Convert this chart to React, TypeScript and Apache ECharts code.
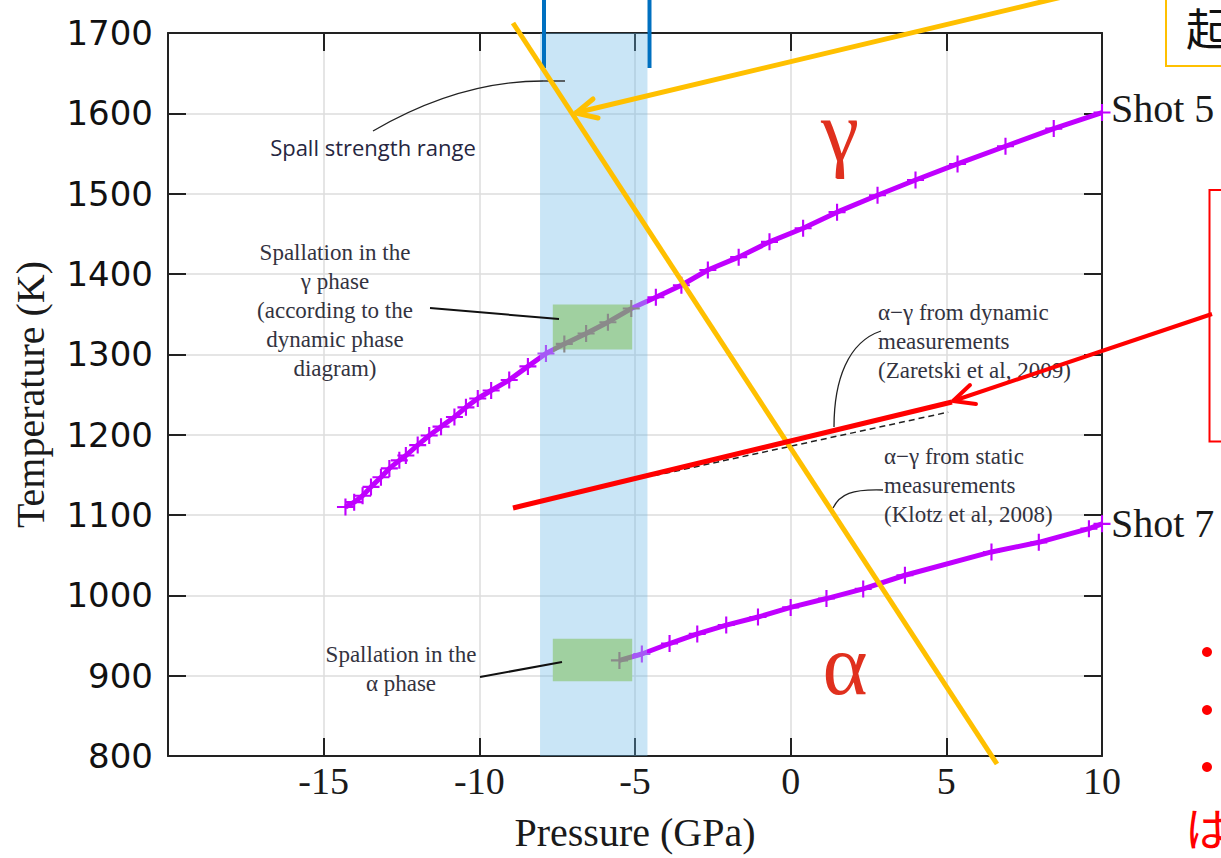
import React, { useEffect, useRef } from "react";
import * as echarts from "echarts";

// ---- axis ranges ----
const X_MIN = -20;
const X_MAX = 10;
const X_STEP = 5;
const Y_MIN = 800;
const Y_MAX = 1700;
const Y_STEP = 100;

// ---- Shot 5 (gamma phase path) ----
const shot5Pressure = [-14.3, -14.02, -13.75, -13.48, -13.16, -12.89, -12.57, -12.36, -11.98, -11.61, -11.23, -10.8, -10.43, -10.05, -9.62, -9.04, -8.44, -7.86, -7.27, -6.57, -5.87, -5.12, -4.33, -3.51, -2.66, -1.67, -0.68, 0.4, 1.49, 2.79, 4.01, 5.36, 6.9, 8.45, 10];
const shot5Temp = [1110, 1116, 1124, 1135, 1147, 1158, 1168, 1174, 1187, 1199, 1210, 1222, 1234, 1245, 1255, 1268, 1285, 1301, 1313, 1326, 1340, 1357, 1371, 1386, 1405, 1421, 1440, 1457, 1477, 1498, 1517, 1537, 1559, 1581, 1601];

// ---- Shot 7 (alpha phase path) ----
const shot7Pressure = [-5.5, -4.78, -3.89, -3.0, -2.07, -1.05, 0, 1.15, 2.33, 3.67, 6.45, 7.97, 9.58, 10];
const shot7Temp = [919, 927, 940, 952, 963, 973, 985, 996, 1008, 1025, 1054, 1066, 1083, 1089];

// ---- alpha-gamma boundary from dynamic measurements (visible part) ----
const dynPressure = [-4.37, 5.06];
const dynTemp = [1149, 1228];

// ---- regions ----
const spallRange = [-8.05, -4.6];
const spallBoxPressure = [-7.64, -5.09];
const gammaBoxTemp = [1306, 1362];
const alphaBoxTemp = [893, 946];

// ---- labels ----
const shotLabels = ["Shot 5", "Shot 7"];

const SERIF = "'Liberation Serif', 'Times New Roman', serif";
const SANS = "'DejaVu Sans', sans-serif";
const CJK = "'Noto Sans CJK JP', sans-serif";
const PLUS = "path://M7,0H9V7H16V9H9V16H7V9H0V7H7Z";

const pairs = (xs: number[], ys: number[]) => xs.map((x, i) => [x, ys[i]]);

export default function App() {
  const ref = useRef<HTMLDivElement>(null);

  useEffect(() => {
    if (!ref.current) return;
    const chart = echarts.init(ref.current, null, { renderer: "svg" });

    const axisLine = { show: true, onZero: false, lineStyle: { color: "#222", width: 2 } };
    const axisTick = { show: true, inside: true, length: 18, lineStyle: { color: "#222", width: 2 } };
    const grayLine = { color: "#dcdcdc", width: 1.5 };

    const Z = 100;
    const graphic: any[] = [
      // in-figure annotations
      {
        type: "text", z: 50,
        style: { text: "Spall strength range", x: 373, y: 147, textAlign: "center", textVerticalAlign: "middle", fontFamily: "'Open Sans', sans-serif", fontSize: 22, fill: "#26263f" },
      },
      {
        type: "bezierCurve", z: 50,
        shape: { x1: 373, y1: 131, cpx1: 440, cpy1: 92, cpx2: 495, cpy2: 81, x2: 543, y2: 81 },
        style: { stroke: "#222", lineWidth: 1.3, fill: "none" },
      },
      { type: "line", z: 50, shape: { x1: 543, y1: 81, x2: 565, y2: 81 }, style: { stroke: "#333", lineWidth: 1.5 } },
      {
        type: "text", z: 50,
        style: { text: "Spallation in the\nγ phase\n(according to the\ndynamic phase\ndiagram)", x: 335, y: 310, textAlign: "center", textVerticalAlign: "middle", fontFamily: SERIF, fontSize: 23, lineHeight: 29, fill: "#333340" },
      },
      { type: "line", z: 50, shape: { x1: 430, y1: 308, x2: 559, y2: 319 }, style: { stroke: "#111", lineWidth: 2 } },
      {
        type: "text", z: 50,
        style: { text: "Spallation in the\nα phase", x: 401, y: 669, textAlign: "center", textVerticalAlign: "middle", fontFamily: SERIF, fontSize: 23, lineHeight: 29, fill: "#333340" },
      },
      { type: "line", z: 50, shape: { x1: 480, y1: 677, x2: 562, y2: 662 }, style: { stroke: "#111", lineWidth: 2 } },
      {
        type: "text", z: 50,
        style: { text: "α−γ from dynamic\nmeasurements\n(Zaretski et al, 2009)", x: 878, y: 341, textAlign: "left", textVerticalAlign: "middle", fontFamily: SERIF, fontSize: 23, lineHeight: 29, fill: "#333340" },
      },
      {
        type: "bezierCurve", z: 50,
        shape: { x1: 881, y1: 331, cpx1: 848, cpy1: 342, cpx2: 834, cpy2: 380, x2: 834, y2: 427 },
        style: { stroke: "#222", lineWidth: 1.3, fill: "none" },
      },
      {
        type: "text", z: 50,
        style: { text: "α−γ from static\nmeasurements\n(Klotz et al, 2008)", x: 884, y: 485, textAlign: "left", textVerticalAlign: "middle", fontFamily: SERIF, fontSize: 23, lineHeight: 29, fill: "#333340" },
      },
      {
        type: "bezierCurve", z: 50,
        shape: { x1: 883, y1: 490, cpx1: 852, cpy1: 489, cpx2: 840, cpy2: 494, x2: 833, y2: 508 },
        style: { stroke: "#222", lineWidth: 1.3, fill: "none" },
      },
      { type: "text", z: 50, style: { text: "γ", x: 840, y: 131, textAlign: "center", textVerticalAlign: "middle", fontFamily: SERIF, fontSize: 86, fill: "#e0301e" } },
      { type: "text", z: 50, style: { text: "α", x: 845, y: 665, textAlign: "center", textVerticalAlign: "middle", fontFamily: SERIF, fontSize: 86, fill: "#e0301e" } },
      { type: "text", z: 50, style: { text: shotLabels[0], x: 1111, y: 108, textAlign: "left", textVerticalAlign: "middle", fontFamily: SERIF, fontSize: 40, fill: "#1a1a1a" } },
      { type: "text", z: 50, style: { text: shotLabels[1], x: 1111, y: 523, textAlign: "left", textVerticalAlign: "middle", fontFamily: SERIF, fontSize: 40, fill: "#1a1a1a" } },

      // slide overlays
      { type: "rect", z: Z, shape: { x: 542, y: 0, width: 4, height: 68 }, style: { fill: "#0070c0" } },
      { type: "rect", z: Z, shape: { x: 647.5, y: 0, width: 4, height: 68 }, style: { fill: "#0070c0" } },
      { type: "line", z: Z, shape: { x1: 513, y1: 23, x2: 997, y2: 764 }, style: { stroke: "#ffc000", lineWidth: 5 } },
      { type: "line", z: Z, shape: { x1: 575, y1: 113, x2: 1062, y2: -3 }, style: { stroke: "#ffc000", lineWidth: 5 } },
      { type: "polyline", z: Z, shape: { points: [[593, 99], [576, 113], [598, 118]] }, style: { stroke: "#ffc000", lineWidth: 5, fill: "none", lineCap: "round", lineJoin: "round" } },
      { type: "rect", z: Z, shape: { x: 1166, y: -5, width: 100, height: 71 }, style: { fill: "none", stroke: "#ffc000", lineWidth: 2 } },
      { type: "text", z: Z, style: { text: "起", x: 1186, y: 27, textAlign: "left", textVerticalAlign: "middle", fontFamily: CJK, fontSize: 44, fill: "#111" } },
      { type: "line", z: Z, shape: { x1: 513, y1: 508, x2: 952, y2: 402 }, style: { stroke: "#ff0000", lineWidth: 5 } },
      { type: "line", z: Z, shape: { x1: 953, y1: 401, x2: 1212, y2: 314 }, style: { stroke: "#ff0000", lineWidth: 4 } },
      { type: "polyline", z: Z, shape: { points: [[970, 385], [953, 401], [976, 404]] }, style: { stroke: "#ff0000", lineWidth: 4, fill: "none", lineCap: "round", lineJoin: "round" } },
      { type: "rect", z: Z, shape: { x: 1209.5, y: 190, width: 100, height: 251.5 }, style: { fill: "none", stroke: "#ff0000", lineWidth: 2 } },
      { type: "circle", z: Z, shape: { cx: 1207, cy: 652, r: 5 }, style: { fill: "#ff0000" } },
      { type: "circle", z: Z, shape: { cx: 1207, cy: 710, r: 5 }, style: { fill: "#ff0000" } },
      { type: "circle", z: Z, shape: { cx: 1207, cy: 767, r: 5 }, style: { fill: "#ff0000" } },
      { type: "text", z: Z, style: { text: "は", x: 1185, y: 826, textAlign: "left", textVerticalAlign: "middle", fontFamily: CJK, fontSize: 46, fill: "#ff0000" } },
    ];

    const option: any = {
      animation: false,
      backgroundColor: "#ffffff",
      grid: { left: 168, top: 33, right: 119, bottom: 102, containLabel: false },
      xAxis: [
        {
          type: "value", min: X_MIN, max: X_MAX, interval: X_STEP, position: "bottom",
          name: "Pressure (GPa)", nameLocation: "middle", nameGap: 56,
          nameTextStyle: { fontFamily: SERIF, fontSize: 40, color: "#1a1a1a" },
          axisLine, axisTick,
          axisLabel: { fontFamily: SERIF, fontSize: 38, color: "#1a1a1a", margin: 6, formatter: (v: number) => (v === X_MIN ? "" : String(v)) },
          splitLine: { show: true, lineStyle: grayLine },
        },
        {
          type: "value", min: X_MIN, max: X_MAX, interval: X_STEP, position: "top",
          axisLine, axisTick, axisLabel: { show: false }, splitLine: { show: false },
        },
      ],
      yAxis: [
        {
          type: "value", min: Y_MIN, max: Y_MAX, interval: Y_STEP, position: "left",
          name: "Temperature (K)", nameLocation: "middle", nameGap: 118, nameRotate: 90,
          nameTextStyle: { fontFamily: SERIF, fontSize: 40, color: "#1a1a1a" },
          axisLine, axisTick,
          axisLabel: { fontFamily: SANS, fontSize: 34, color: "#111", margin: 15, formatter: (v: number) => String(v) },
          splitLine: { show: true, lineStyle: grayLine },
        },
        {
          type: "value", min: Y_MIN, max: Y_MAX, interval: Y_STEP, position: "right",
          axisLine, axisTick, axisLabel: { show: false }, splitLine: { show: false },
        },
      ],
      visualMap: {
        type: "piecewise", show: false, dimension: 0, seriesIndex: [0, 1],
        pieces: [
          { gte: spallRange[0], lt: spallBoxPressure[0], color: "#a658f6" },
          { gte: spallBoxPressure[0], lt: spallBoxPressure[1], color: "#8a8a8a" },
          { gte: spallBoxPressure[1], lte: spallRange[1], color: "#a658f6" },
        ],
        outOfRange: { color: "#c000ff" },
      },
      series: [
        {
          name: shotLabels[0], type: "line", data: pairs(shot5Pressure, shot5Temp), z: 3,
          symbol: PLUS, symbolSize: 17, showSymbol: true, lineStyle: { width: 5 },
        },
        {
          name: shotLabels[1], type: "line", data: pairs(shot7Pressure, shot7Temp), z: 3,
          symbol: PLUS, symbolSize: 17, showSymbol: true, lineStyle: { width: 5 },
        },
        {
          name: "dynamic boundary", type: "line", data: pairs(dynPressure, dynTemp), z: 1,
          symbol: "none", lineStyle: { color: "#222", width: 1.5, type: [6, 4] },
          markArea: {
            silent: true,
            data: [
              [{ xAxis: spallRange[0], yAxis: Y_MIN, itemStyle: { color: "rgba(100,180,230,0.35)" } }, { xAxis: spallRange[1], yAxis: Y_MAX }],
              [{ xAxis: spallBoxPressure[0], yAxis: gammaBoxTemp[0], itemStyle: { color: "#a0d0a0" } }, { xAxis: spallBoxPressure[1], yAxis: gammaBoxTemp[1] }],
              [{ xAxis: spallBoxPressure[0], yAxis: alphaBoxTemp[0], itemStyle: { color: "#a0d0a0" } }, { xAxis: spallBoxPressure[1], yAxis: alphaBoxTemp[1] }],
            ],
          },
        },
      ],
      graphic,
    };

    chart.setOption(option);
    return () => chart.dispose();
  }, []);

  return (
    <div
      ref={ref}
      style={{ position: "fixed", left: 0, top: 0, width: 1221, height: 858, background: "#fff" }}
    />
  );
}
